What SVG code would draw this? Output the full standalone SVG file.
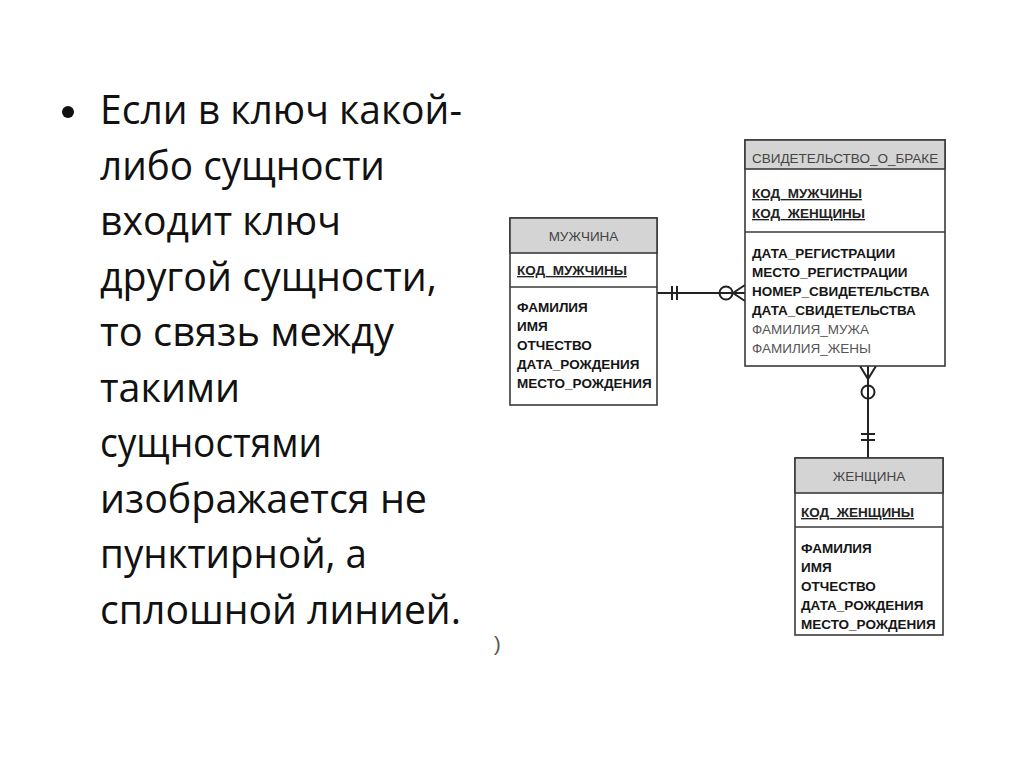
<svg xmlns="http://www.w3.org/2000/svg" width="1024" height="767" viewBox="0 0 1024 767">
<style>
.bg{fill:#ffffff}
.main{font-family:"Open Sans","Noto Sans",sans-serif;font-size:41px;fill:#111}
.box{fill:#ffffff;stroke:#3a3a3a;stroke-width:1.6}
.hdr{fill:#d4d4d4;stroke:#3a3a3a;stroke-width:1.6}
.div{stroke:#3a3a3a;stroke-width:1.6}
.ht{font-family:"Liberation Sans",Arial,sans-serif;font-size:13.5px;fill:#444}
.key{font-family:"Liberation Sans",Arial,sans-serif;font-size:13.5px;font-weight:bold;fill:#222;text-decoration:underline}
.at{font-family:"Liberation Sans",Arial,sans-serif;font-size:13.5px;font-weight:bold;fill:#151515}
.ag{font-family:"Liberation Sans",Arial,sans-serif;font-size:13.5px;fill:#555}
.ln{fill:none;stroke:#222;stroke-width:2}
</style>
<rect class="bg" x="0" y="0" width="1024" height="767"/>
<g id="bullet-text">
<circle cx="68" cy="112" r="6" fill="#111"/>
<text class="main" x="100" y="124" textLength="362" lengthAdjust="spacingAndGlyphs">Если в ключ какой-</text>
<text class="main" x="100" y="179.5" textLength="285" lengthAdjust="spacingAndGlyphs">либо сущности</text>
<text class="main" x="100" y="235" textLength="241" lengthAdjust="spacingAndGlyphs">входит ключ</text>
<text class="main" x="100" y="290.5" textLength="337" lengthAdjust="spacingAndGlyphs">другой сущности,</text>
<text class="main" x="100" y="346" textLength="294" lengthAdjust="spacingAndGlyphs">то связь между</text>
<text class="main" x="100" y="401.5" textLength="140" lengthAdjust="spacingAndGlyphs">такими</text>
<text class="main" x="100" y="457" textLength="222" lengthAdjust="spacingAndGlyphs">сущностями</text>
<text class="main" x="100" y="512.5" textLength="327" lengthAdjust="spacingAndGlyphs">изображается не</text>
<text class="main" x="100" y="568" textLength="267" lengthAdjust="spacingAndGlyphs">пунктирной, а</text>
<text class="main" x="100" y="623.5" textLength="361" lengthAdjust="spacingAndGlyphs">сплошной линией.</text>
</g>
<text x="494" y="651" font-family="Liberation Sans,Arial,sans-serif" font-size="20" fill="#555">)</text>
<g id="connectors">
<line class="ln" x1="657" y1="293" x2="745" y2="293"/>
<line class="ln" x1="672" y1="286" x2="672" y2="300"/>
<line class="ln" x1="677" y1="286" x2="677" y2="300"/>
<circle class="ln" cx="726" cy="293" r="6.5" fill="#fff"/>
<path class="ln" d="M745 285 L733 293 L745 301"/>
<line class="ln" x1="868" y1="366" x2="868" y2="458"/>
<path class="ln" d="M860 366 L868 379 L876 366"/>
<circle class="ln" cx="868" cy="392" r="6.5" fill="#fff"/>
<line class="ln" x1="861" y1="434" x2="875" y2="434"/>
<line class="ln" x1="861" y1="440" x2="875" y2="440"/>
</g>
<g id="man">
<rect class="box" x="510" y="218" width="147" height="187"/>
<rect class="hdr" x="510" y="218" width="147" height="35"/>
<line class="div" x1="510" y1="287" x2="657" y2="287"/>
<text class="ht" x="583.5" y="241" text-anchor="middle">МУЖЧИНА</text>
<text class="key" x="517" y="275">КОД_МУЖЧИНЫ</text>
<text class="at" x="517" y="312">ФАМИЛИЯ</text>
<text class="at" x="517" y="331">ИМЯ</text>
<text class="at" x="517" y="350">ОТЧЕСТВО</text>
<text class="at" x="517" y="369">ДАТА_РОЖДЕНИЯ</text>
<text class="at" x="517" y="388">МЕСТО_РОЖДЕНИЯ</text>
</g>
<g id="certificate">
<rect class="box" x="745" y="140" width="200" height="226"/>
<rect class="hdr" x="745" y="140" width="200" height="29"/>
<line class="div" x1="745" y1="232" x2="945" y2="232"/>
<text class="ht" x="752" y="163">СВИДЕТЕЛЬСТВО_О_БРАКЕ</text>
<text class="key" x="752" y="198">КОД_МУЖЧИНЫ</text>
<text class="key" x="752" y="218">КОД_ЖЕНЩИНЫ</text>
<text class="at" x="752" y="258">ДАТА_РЕГИСТРАЦИИ</text>
<text class="at" x="752" y="277">МЕСТО_РЕГИСТРАЦИИ</text>
<text class="at" x="752" y="296">НОМЕР_СВИДЕТЕЛЬСТВА</text>
<text class="at" x="752" y="315">ДАТА_СВИДЕТЕЛЬСТВА</text>
<text class="ag" x="752" y="334">ФАМИЛИЯ_МУЖА</text>
<text class="ag" x="752" y="353">ФАМИЛИЯ_ЖЕНЫ</text>
</g>
<g id="woman">
<rect class="box" x="795" y="458" width="148" height="177"/>
<rect class="hdr" x="795" y="458" width="148" height="35"/>
<line class="div" x1="795" y1="527" x2="943" y2="527"/>
<text class="ht" x="869" y="481" text-anchor="middle">ЖЕНЩИНА</text>
<text class="key" x="801" y="517">КОД_ЖЕНЩИНЫ</text>
<text class="at" x="801" y="553">ФАМИЛИЯ</text>
<text class="at" x="801" y="572">ИМЯ</text>
<text class="at" x="801" y="591">ОТЧЕСТВО</text>
<text class="at" x="801" y="610">ДАТА_РОЖДЕНИЯ</text>
<text class="at" x="801" y="629">МЕСТО_РОЖДЕНИЯ</text>
</g>
</svg>
